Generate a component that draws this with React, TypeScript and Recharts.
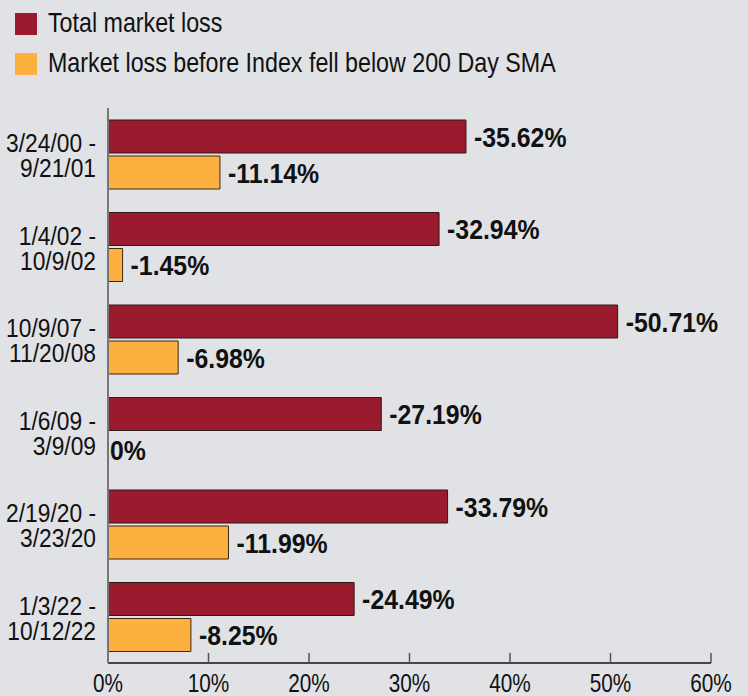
import React from "react";
import { BarChart, Bar, XAxis, YAxis, LabelList } from "recharts";

const periodStart = ["3/24/00 -", "1/4/02 -", "10/9/07 -", "1/6/09 -", "2/19/20 -", "1/3/22 -"];
const periodEnd = ["9/21/01", "10/9/02", "11/20/08", "3/9/09", "3/23/20", "10/12/22"];
const totalLoss = [35.62, 32.94, 50.71, 27.19, 33.79, 24.49];
const lossBeforeSMA = [11.14, 1.45, 6.98, 0, 11.99, 8.25];
const xTicks = [0, 10, 20, 30, 40, 50, 60];
const seriesNames = ["Total market loss", "Market loss before Index fell below 200 Day SMA"];

const data = periodStart.map((s, i) => ({
  period: i,
  total: totalLoss[i],
  before: lossBeforeSMA[i],
}));

const FONT = "'Liberation Sans', Arial, sans-serif";
const RED = "#9b1b2e";
const ORANGE = "#fbb040";
const BG = "#e0e2e6";

const CText = ({ x, y, sx, size, bold, anchor, children }: any) => (
  <text
    transform={`translate(${x},${y}) scale(${sx},1)`}
    textAnchor={anchor || "start"}
    fontFamily={FONT}
    fontSize={size}
    fontWeight={bold ? "bold" : "normal"}
    fill="#111"
  >
    {children}
  </text>
);

const YTick = (props: any) => {
  const { x, y, payload } = props;
  const i = payload.value;
  return (
    <g>
      <CText x={x} y={y - 2} sx={0.86} size={26.5} anchor="end">
        {periodStart[i]}
      </CText>
      <CText x={x} y={y + 23} sx={0.86} size={26.5} anchor="end">
        {periodEnd[i]}
      </CText>
    </g>
  );
};

const XTick = (props: any) => {
  const { x, y, payload } = props;
  return (
    <CText x={x} y={y + 18} sx={0.83} size={25} anchor="middle">
      {`${payload.value}%`}
    </CText>
  );
};

const valueLabel = (props: any) => {
  const { x, y, width, height, value } = props;
  const zero = Math.abs(value) < 1e-9;
  const txt = zero ? "0%" : `-${value.toFixed(2)}%`;
  return (
    <CText x={x + (zero ? 2 : width + 8)} y={y + height / 2 + 10} sx={0.92} size={27} bold>
      {txt}
    </CText>
  );
};

const LegendBox = () => (
  <div style={{ position: "absolute", left: 15, top: 13, fontFamily: FONT, fontSize: 28, color: "#111" }}>
    {[RED, ORANGE].map((c, i) => (
      <div key={i} style={{ position: "relative", height: 40 }}>
        <div style={{ position: "absolute", left: 0, top: 0, width: 22, height: 22, background: c }} />
        <div
          style={{
            position: "absolute",
            left: 33,
            top: -8,
            whiteSpace: "nowrap",
            lineHeight: "36px",
            transform: "scaleX(0.83)",
            transformOrigin: "0 0",
          }}
        >
          {seriesNames[i]}
        </div>
      </div>
    ))}
  </div>
);

export default function App() {
  return (
    <div style={{ position: "absolute", left: 0, top: 0, width: 748, height: 696, background: BG, overflow: "hidden" }}>
      <LegendBox />
      <BarChart
        width={748}
        height={696}
        data={data}
        layout="vertical"
        margin={{ top: 108, right: 37, bottom: 0, left: 0 }}
        barCategoryGap={12}
        barGap={3}
      >
        <XAxis
          type="number"
          domain={[0, 60]}
          ticks={xTicks}
          height={33}
          tickSize={-10}
          tickMargin={21}
          axisLine={{ stroke: "#111", strokeWidth: 1.5 }}
          tickLine={{ stroke: "#555", strokeWidth: 1.5 }}
          tick={<XTick />}
          interval={0}
        />
        <Bar dataKey="total" fill={RED} stroke="#2a1a1a" strokeWidth={1} isAnimationActive={false}>
          <LabelList dataKey="total" content={valueLabel} />
        </Bar>
        <Bar
          dataKey="before"
          fill={ORANGE}
          stroke="#3a2a10"
          strokeWidth={1}
          minPointSize={0.01}
          isAnimationActive={false}
        >
          <LabelList dataKey="before" content={valueLabel} />
        </Bar>
        <YAxis
          type="category"
          dataKey="period"
          width={108}
          axisLine={{ stroke: "#777", strokeWidth: 2 }}
          tickLine={false}
          tick={<YTick />}
          tickMargin={6}
          interval={0}
        />
      </BarChart>
    </div>
  );
}
